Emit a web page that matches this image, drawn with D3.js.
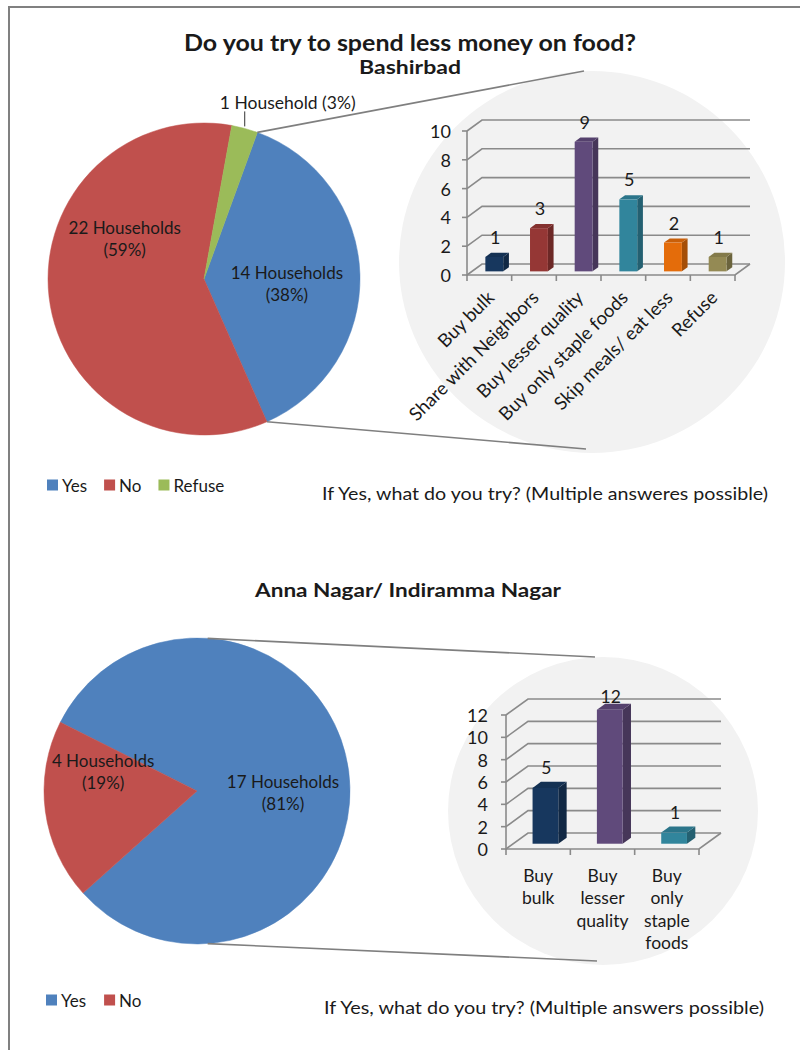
<!DOCTYPE html>
<html>
<head>
<meta charset="utf-8">
<script src="https://cdn.jsdelivr.net/npm/d3@7"></script>
<style>
  body { margin: 0; background: #fff; }
  svg { display: block; }
  text { font-family: Lato, "Open Sans", sans-serif; fill: #1a1a1a; }
</style>
</head>
<body>
<svg id="chart" width="800" height="1050"></svg>
<script>
// ---- Bashirbad ----
const pieCatsA = ["Yes", "No", "Refuse"];
const pieValsA = [14, 22, 1];
const barCatsA = ["Buy bulk", "Share with Neighbors", "Buy lesser quality", "Buy only staple foods", "Skip meals/ eat less", "Refuse"];
const barValsA = [1, 3, 9, 5, 2, 1];
const yTicksA = [0, 2, 4, 6, 8, 10];

// ---- Anna Nagar / Indiramma Nagar ----
const pieCatsB = ["Yes", "No"];
const pieValsB = [17, 4];
const barCatsB = ["Buy bulk", "Buy lesser quality", "Buy only staple foods"];
const barValsB = [5, 12, 1];
const yTicksB = [0, 2, 4, 6, 8, 10, 12];

const titleText = "Do you try to spend less money on food?";
const subTitleA = "Bashirbad";
const subTitleB = "Anna Nagar/ Indiramma Nagar";
const noteA = "If Yes, what do you try? (Multiple answeres possible)";
const noteB = "If Yes, what do you try? (Multiple answers possible)";

// ---- styling ----
const pieColor = d3.scaleOrdinal()
  .domain(["Yes", "No", "Refuse"])
  .range(["#4F81BD", "#C0504D", "#9BBB59"]);
const barColorsA = ["#17375E", "#953735", "#604A7B", "#31859C", "#E46C0A", "#948A54"];
const barColorsB = ["#17375E", "#604A7B", "#31859C"];
const gridColor = "#8a8a8a";
const connColor = "#7f7f7f";
const rad = d => d * Math.PI / 180;

const svg = d3.select("#chart");
svg.append("rect").attr("width", 800).attr("height", 1050).attr("fill", "#fff");

// outer frame
svg.append("path").attr("d", "M9,1050 V7 H800")
  .attr("fill", "none").attr("stroke", "#808080").attr("stroke-width", 2);

// text helper: optional fixed rendered width
function label(x, y, str, size, opts = {}) {
  const t = svg.append("text").attr("x", x).attr("y", y)
    .attr("text-anchor", opts.anchor || "start").attr("dominant-baseline", "central")
    .style("font-size", size + "px").text(str);
  if (opts.bold) t.style("font-weight", "bold");
  if (opts.width) t.attr("textLength", opts.width).attr("lengthAdjust", "spacingAndGlyphs");
  return t;
}

// titles
label(410, 42, titleText, 23, { anchor: "middle", bold: true, width: 452 });
label(410, 67, subTitleA, 18, { anchor: "middle", bold: true, width: 102 });
label(408, 590, subTitleB, 18, { anchor: "middle", bold: true, width: 306 });

function pieLabel(v, total) {
  const pct = Math.round(v / total * 100);
  return [`${v} Household${v === 1 ? "" : "s"}`, `(${pct}%)`];
}

// pie with a gray secondary-plot disc to its right and connector lines
function drawPie(cats, vals, cfg) {
  const g = svg.append("g");
  const total = d3.sum(vals);

  // secondary plot disc
  g.append("ellipse").attr("cx", cfg.disc.cx).attr("cy", cfg.disc.cy)
    .attr("rx", cfg.disc.rx).attr("ry", cfg.disc.ry).attr("fill", "#f2f2f2");

  const pie = d3.pie().sort(null)
    .startAngle(rad(cfg.start)).endAngle(rad(cfg.start) + 2 * Math.PI);
  const arcs = pie(vals).map((a, i) => Object.assign(a, { cat: cats[i] }));
  const arc = d3.arc().innerRadius(0).outerRadius(cfg.r);

  const pg = g.append("g").attr("transform", `translate(${cfg.cx},${cfg.cy})`);
  pg.selectAll("path").data(arcs).join("path")
    .attr("d", arc).attr("fill", d => pieColor(d.cat))
    .attr("stroke", d => pieColor(d.cat)).attr("stroke-width", 0.5);

  // connector lines from the pie edge to the disc
  const edge = a => [cfg.cx + cfg.r * Math.sin(rad(a)), cfg.cy - cfg.r * Math.cos(rad(a))];
  const [t0, t1] = [edge(cfg.connect[0]), edge(cfg.connect[1])];
  g.append("line").attr("x1", t0[0]).attr("y1", t0[1])
    .attr("x2", cfg.disc.cx - 8).attr("y2", cfg.disc.cy - cfg.disc.ry)
    .attr("stroke", connColor).attr("stroke-width", 1.6);
  g.append("line").attr("x1", t1[0]).attr("y1", t1[1])
    .attr("x2", cfg.disc.cx - 6).attr("y2", cfg.disc.cy + cfg.disc.ry - 4)
    .attr("stroke", connColor).attr("stroke-width", 1.6);

  // data labels
  arcs.forEach((a, i) => {
    const lp = cfg.labels[i];
    const lines = pieLabel(a.value, total);
    if (lp.outside) {
      const mid = (a.startAngle + a.endAngle) / 2;
      const ex = cfg.cx + cfg.r * Math.sin(mid);
      const ey = cfg.cy - cfg.r * Math.cos(mid);
      g.append("line").attr("x1", ex).attr("y1", ey - 2).attr("x2", ex).attr("y2", ey - lp.lift)
        .attr("stroke", "#333").attr("stroke-width", 1);
      g.append("text").attr("x", ex + lp.dx).attr("y", ey - lp.lift - 9)
        .attr("text-anchor", "middle").attr("dominant-baseline", "central")
        .style("font-size", "17.5px").text(lines.join(" "));
    } else {
      const x = cfg.cx + lp.dist * Math.sin(rad(lp.angle));
      const y = cfg.cy - lp.dist * Math.cos(rad(lp.angle));
      const t = g.append("text").attr("text-anchor", "middle").style("font-size", "17px");
      lines.forEach((s, k) => {
        t.append("tspan").attr("x", x).attr("y", y + (k - 0.5) * 22)
          .attr("dominant-baseline", "central").text(s);
      });
    }
  });
}

// 3-D clustered column chart
function draw3DColumns(cats, vals, ticks, colors, cfg) {
  const g = svg.append("g");
  const [dx, dy] = cfg.depth;
  const y = d3.scaleLinear().domain([0, d3.max(ticks)]).range([cfg.y0, cfg.yTop]);
  const x = d3.scaleBand().domain(cats).range([cfg.x0, cfg.x1]);
  const bw = x.bandwidth();

  // gridlines on the side and back walls
  ticks.forEach(t => {
    g.append("path")
      .attr("d", `M${cfg.x0},${y(t)} L${cfg.x0 + dx},${y(t) + dy} L${cfg.x1 + dx},${y(t) + dy}`)
      .attr("fill", "none").attr("stroke", gridColor).attr("stroke-width", 1.6);
    g.append("line").attr("x1", cfg.x0 - 5).attr("x2", cfg.x0).attr("y1", y(t)).attr("y2", y(t))
      .attr("stroke", gridColor).attr("stroke-width", 1.6);
    g.append("text").attr("x", cfg.x0 - cfg.tickGap).attr("y", y(t))
      .attr("text-anchor", "end").attr("dominant-baseline", "central")
      .style("font-size", cfg.tickFont).text(t);
  });
  // floor front edge and right edge
  g.append("path")
    .attr("d", `M${cfg.x0},${cfg.y0} L${cfg.x1},${cfg.y0} L${cfg.x1 + dx},${cfg.y0 + dy}`)
    .attr("fill", "none").attr("stroke", gridColor).attr("stroke-width", 1.6);
  // value axis
  g.append("line").attr("x1", cfg.x0).attr("x2", cfg.x0)
    .attr("y1", y(d3.max(ticks))).attr("y2", cfg.y0 + 1)
    .attr("stroke", gridColor).attr("stroke-width", 1.6);
  // category tick marks
  d3.range(cats.length + 1).forEach(i => {
    const tx = cfg.x0 + i * bw;
    g.append("line").attr("x1", tx).attr("x2", tx).attr("y1", cfg.y0).attr("y2", cfg.y0 + 6)
      .attr("stroke", gridColor).attr("stroke-width", 1.6);
  });

  // columns: front, side and top faces
  const f = 0.33, bd = 0.38;
  const ox = f * dx, oy = f * dy;
  const cdx = bd * dx, cdy = bd * dy;
  const w = bw * 0.4;
  cats.forEach((c, i) => {
    const v = vals[i];
    const cx = x(c) + bw / 2 + ox;
    const xl = cx - w / 2, xr = cx + w / 2;
    const yb = y(0) + oy, yt = y(v) + oy;
    const col = d3.color(colors[i]);
    g.append("path")
      .attr("d", `M${xr},${yb} L${xr + cdx},${yb + cdy} L${xr + cdx},${yt + cdy} L${xr},${yt} Z`)
      .attr("fill", col.darker(0.9));
    g.append("path")
      .attr("d", `M${xl},${yt} L${xl + cdx},${yt + cdy} L${xr + cdx},${yt + cdy} L${xr},${yt} Z`)
      .attr("fill", col.darker(0.35));
    g.append("rect").attr("x", xl).attr("y", yt).attr("width", w).attr("height", yb - yt)
      .attr("fill", col);
    g.append("text").attr("x", cx + 1).attr("y", Math.max(yt - 20, cfg.labelMin))
      .attr("text-anchor", "middle").attr("dominant-baseline", "central")
      .style("font-size", cfg.valueFont).text(v);
  });

  // category labels
  cats.forEach(c => {
    const cx = x(c) + bw / 2;
    if (cfg.rotate) {
      g.append("text")
        .attr("transform", `translate(${cx + 1},${cfg.y0 + 19}) rotate(-45)`)
        .attr("text-anchor", "end").attr("dominant-baseline", "central")
        .style("font-size", cfg.catFont).text(c);
    } else {
      const t = g.append("text").attr("text-anchor", "middle").style("font-size", cfg.catFont);
      c.split(" ").forEach((word, k) => {
        t.append("tspan").attr("x", cx).attr("y", cfg.y0 + 26 + k * 22.5)
          .attr("dominant-baseline", "central").text(word);
      });
    }
  });
}

function drawLegend(cats, cfg) {
  const g = svg.append("g");
  let xPos = cfg.x;
  cats.forEach(c => {
    g.append("rect").attr("x", xPos).attr("y", cfg.y - 5.5).attr("width", 11).attr("height", 11)
      .attr("fill", pieColor(c));
    const t = g.append("text").attr("x", xPos + 15).attr("y", cfg.y)
      .attr("dominant-baseline", "central").style("font-size", "17px").text(c);
    xPos += 15 + t.node().getComputedTextLength() + cfg.gap;
  });
}

// ---- upper panel ----
drawPie(pieCatsA, pieValsA, {
  cx: 204, cy: 279, r: 156, start: 20,
  disc: { cx: 592, cy: 262, rx: 193, ry: 191 },
  connect: [20, 156.2],
  labels: [{ angle: 93, dist: 83 }, { angle: 297, dist: 89 }, { outside: true, lift: 17, dx: 43 }]
});
draw3DColumns(barCatsA, barValsA, yTicksA, barColorsA, {
  x0: 467, x1: 735, y0: 275, yTop: 131, depth: [15, -11], tickGap: 16,
  tickFont: "18px", valueFont: "18px", catFont: "18.5px", rotate: true, labelMin: 0
});
drawLegend(pieCatsA, { x: 47, y: 485, gap: 17 });
label(322, 493, noteA, 18, { width: 446 });

// ---- lower panel ----
drawPie(pieCatsB, pieValsB, {
  cx: 197, cy: 791, r: 153, start: -63.3,
  disc: { cx: 603, cy: 811, rx: 155, ry: 154 },
  connect: [4, 176],
  labels: [{ angle: 91, dist: 86 }, { angle: 282, dist: 96 }]
});
draw3DColumns(barCatsB, barValsB, yTicksB, barColorsB, {
  x0: 506, x1: 699, y0: 849, yTop: 715, depth: [22, -16], tickGap: 18,
  tickFont: "18px", valueFont: "17.5px", catFont: "17.5px", rotate: false, labelMin: 696
});
drawLegend(pieCatsB, { x: 46, y: 1000, gap: 18 });
label(324, 1007, noteB, 18, { width: 440 });
</script>
</body>
</html>
